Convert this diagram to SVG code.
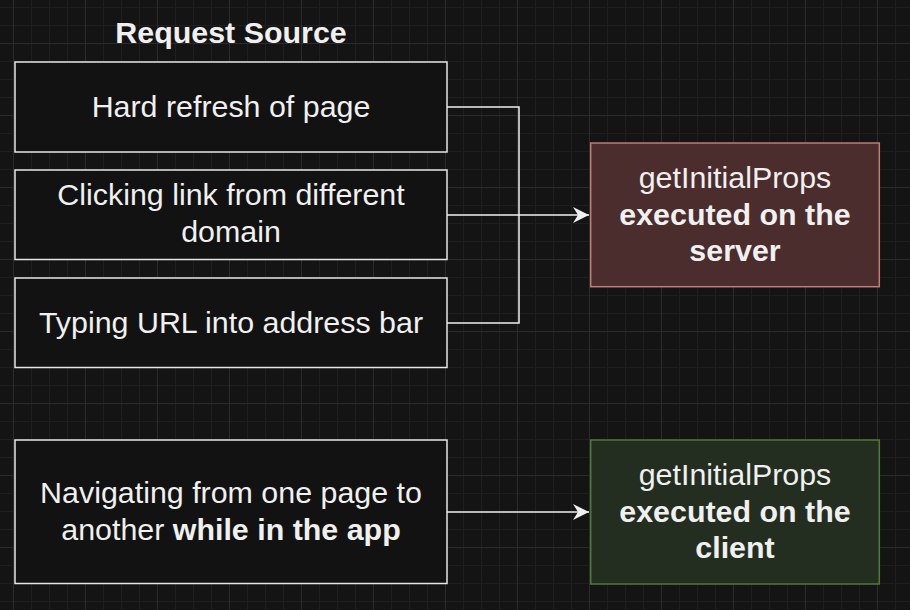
<svg xmlns="http://www.w3.org/2000/svg" width="910" height="610" viewBox="0 0 910 610">
  <defs>
    <pattern id="grid" x="13" y="43" width="72" height="72" patternUnits="userSpaceOnUse">
      <rect x="0" y="0" width="72" height="72" fill="#141414"/>
      <g fill="#1f1f1f">
        <rect x="18" y="0" width="1" height="72"/>
        <rect x="36" y="0" width="1" height="72"/>
        <rect x="54" y="0" width="1" height="72"/>
        <rect x="0" y="18" width="72" height="1"/>
        <rect x="0" y="36" width="72" height="1"/>
        <rect x="0" y="54" width="72" height="1"/>
      </g>
      <g fill="#2c2c2c">
        <rect x="0" y="0" width="1" height="72"/>
        <rect x="0" y="0" width="72" height="1"/>
      </g>
    </pattern>
    <marker id="arrow" markerUnits="userSpaceOnUse" markerWidth="20" markerHeight="20" viewBox="0 0 20 20" refX="16" refY="10" orient="auto">
      <path d="M0 2 L16 10 L0 18 L5 10 Z" fill="#f0f0f0"/>
    </marker>
  </defs>
  <style>
    .src { fill: #121212; stroke: #e6e6e6; stroke-width: 1.5; }
    .t { font-family: "Liberation Sans", Arial, Helvetica, sans-serif; font-size: 30.4px; fill: #f0f0f0; text-anchor: middle; }
    .b { font-weight: bold; }
    .conn { fill: none; stroke: #f0f0f0; stroke-width: 1.5; }
  </style>
  <rect x="0" y="0" width="910" height="610" fill="url(#grid)"/>

  <g id="title">
    <text class="t b" x="231" y="43">Request Source</text>
  </g>

  <g id="connectors">
    <path class="conn" d="M447 107 H519 V323 H447"/>
    <path class="conn" d="M447 215 H589" marker-end="url(#arrow)"/>
    <path class="conn" d="M447 512 H589" marker-end="url(#arrow)"/>
  </g>

  <g id="hard-refresh">
    <rect class="src" x="15" y="62" width="432" height="90"/>
    <text class="t" x="231" y="117">Hard refresh of page</text>
  </g>

  <g id="clicking-link">
    <rect class="src" x="15" y="170" width="432" height="89.5"/>
    <text class="t" x="231" y="205">Clicking link from different</text>
    <text class="t" x="231" y="242">domain</text>
  </g>

  <g id="typing-url">
    <rect class="src" x="15" y="278" width="432" height="89.5"/>
    <text class="t" x="231" y="333">Typing URL into address bar</text>
  </g>

  <g id="navigating">
    <rect class="src" x="15" y="440" width="432" height="143.5"/>
    <text class="t" x="231" y="503">Navigating from one page to</text>
    <text class="t" x="231" y="540">another <tspan class="b">while in the app</tspan></text>
  </g>

  <g id="server">
    <rect x="590.7" y="143" width="288.6" height="143.7" fill="#4a2d2c" stroke="#c47a75" stroke-width="1.5"/>
    <text class="t" x="735" y="188">getInitialProps</text>
    <text class="t b" x="735" y="225">executed on the</text>
    <text class="t b" x="735" y="261">server</text>
  </g>

  <g id="client">
    <rect x="590.7" y="440" width="288.6" height="144" fill="#232e20" stroke="#4f7a35" stroke-width="1.5"/>
    <text class="t" x="735" y="485">getInitialProps</text>
    <text class="t b" x="735" y="521.5">executed on the</text>
    <text class="t b" x="735" y="558">client</text>
  </g>
</svg>
